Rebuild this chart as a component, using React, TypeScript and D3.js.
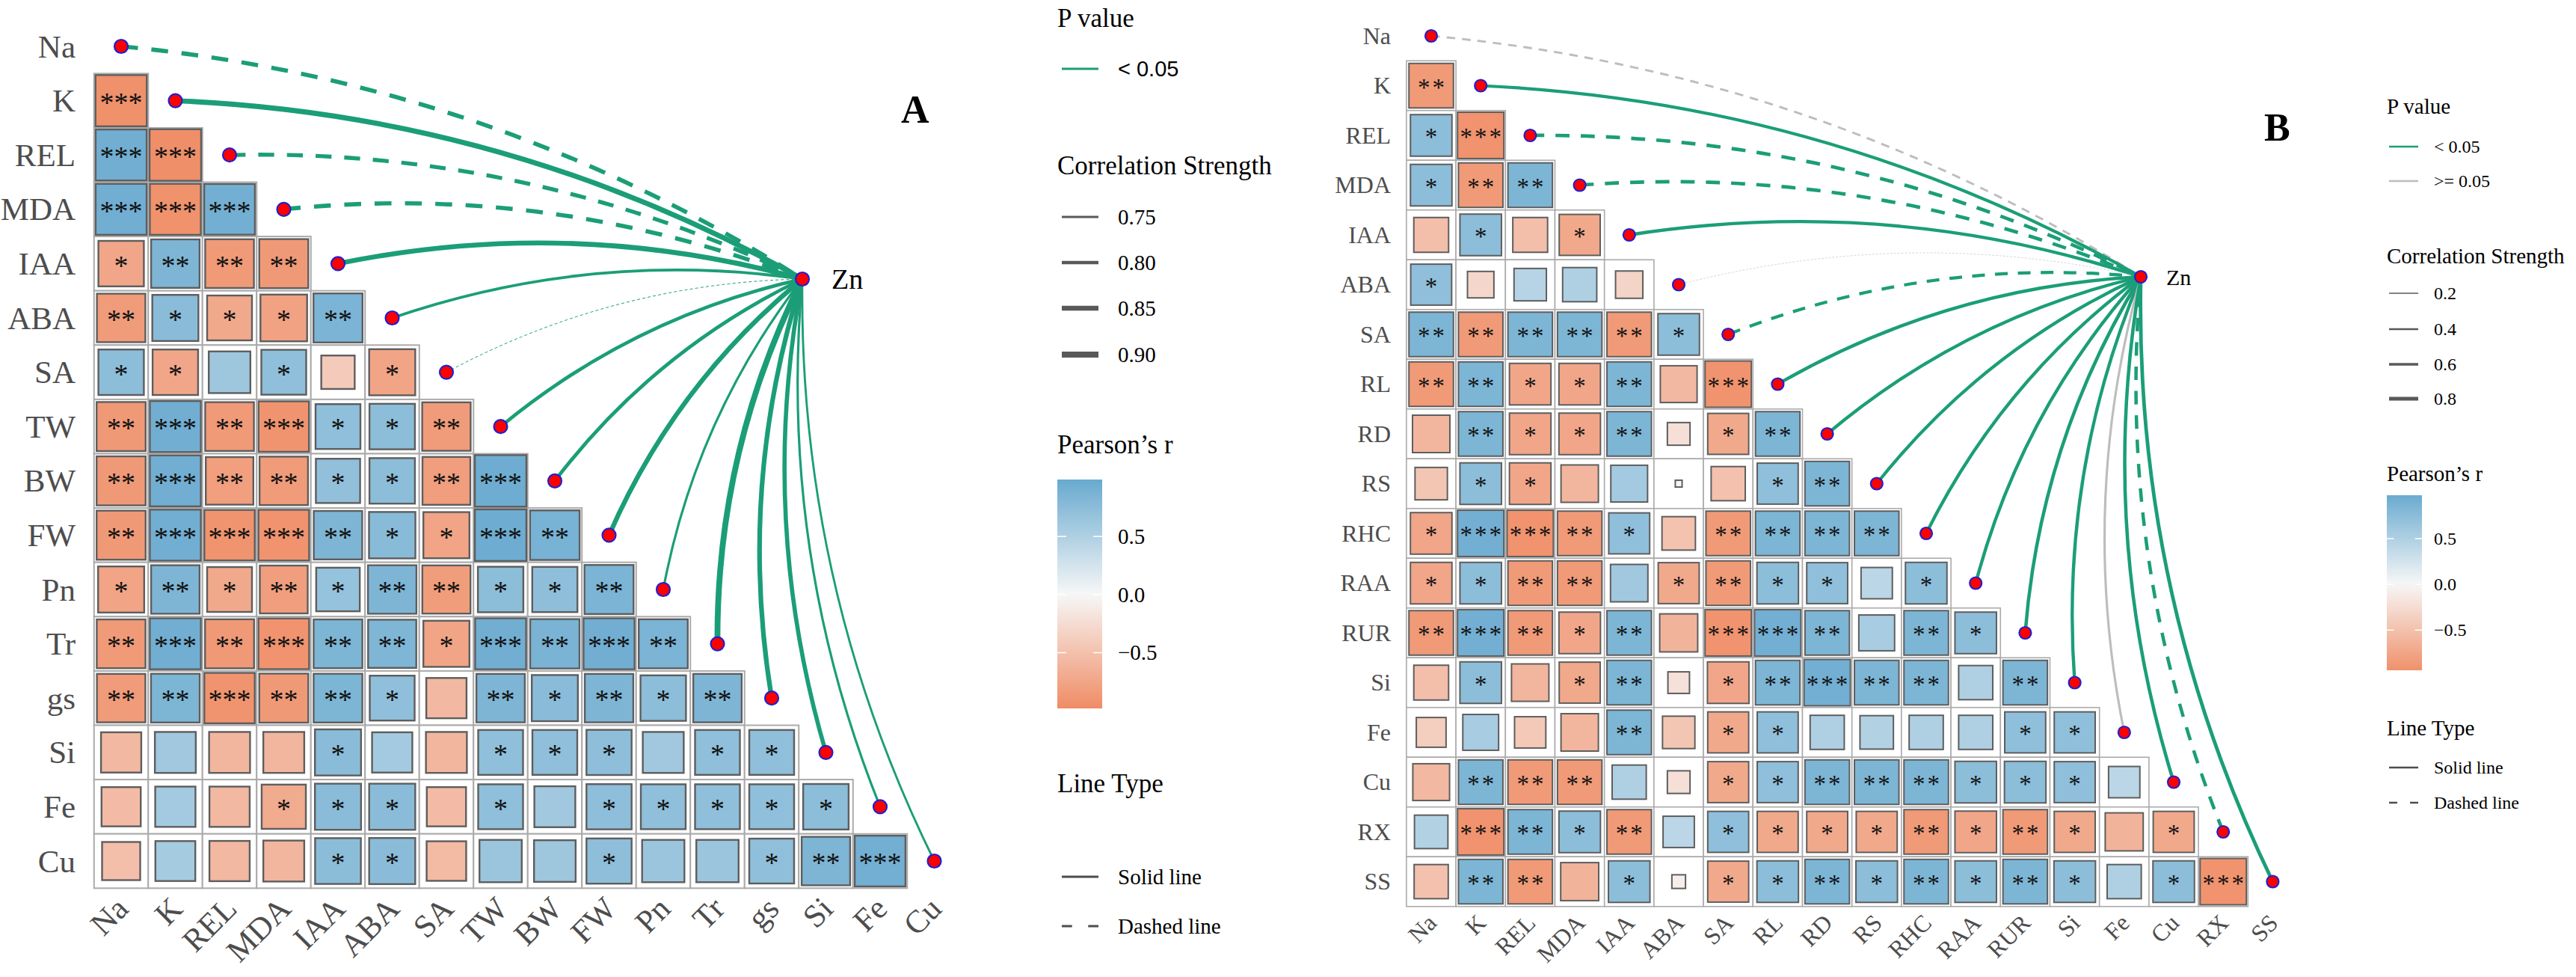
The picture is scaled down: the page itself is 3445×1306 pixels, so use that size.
import React from "react";
import * as d3 from "d3";

const SERIF = '"Liberation Serif", "Times New Roman", serif';
const SANS = '"Liberation Sans", Arial, sans-serif';

// ---------------- Panel A data ----------------
const varsA = ["Na", "K", "REL", "MDA", "IAA", "ABA", "SA", "TW", "BW", "FW", "Pn", "Tr", "gs", "Si", "Fe", "Cu"];
const corrA: number[][] = [
  [],
  [-0.94],
  [0.93, -0.95],
  [0.93, -0.93, 0.92],
  [-0.74, 0.84, -0.85, -0.86],
  [-0.84, 0.76, -0.72, -0.78, 0.86],
  [0.74, -0.74, 0.62, 0.72, -0.4, -0.76],
  [-0.86, 0.93, -0.85, -0.91, 0.72, 0.74, -0.84],
  [-0.86, 0.93, -0.81, -0.84, 0.7, 0.74, -0.82, 0.95],
  [-0.86, 0.93, -0.91, -0.92, 0.84, 0.77, -0.76, 0.95, 0.88],
  [-0.76, 0.84, -0.72, -0.82, 0.68, 0.84, -0.83, 0.74, 0.73, 0.86],
  [-0.85, 0.93, -0.86, -0.92, 0.85, 0.83, -0.76, 0.93, 0.87, 0.93, 0.86],
  [-0.84, 0.85, -0.91, -0.86, 0.85, 0.72, -0.58, 0.84, 0.76, 0.84, 0.74, 0.84],
  [-0.58, 0.6, -0.6, -0.6, 0.76, 0.58, -0.6, 0.72, 0.72, 0.73, 0.6, 0.72, 0.72],
  [-0.55, 0.58, -0.58, -0.7, 0.76, 0.76, -0.55, 0.72, 0.6, 0.73, 0.72, 0.72, 0.72, 0.74],
  [-0.52, 0.57, -0.58, -0.6, 0.75, 0.76, -0.56, 0.64, 0.62, 0.73, 0.64, 0.64, 0.72, 0.84, 0.92],
];
const linkRA = [-0.83, 0.87, -0.82, -0.83, 0.86, 0.77, -0.68, 0.8, 0.8, 0.85, 0.75, 0.9, 0.85, 0.83, 0.75, 0.74];
const linkSigA = [true, true, true, true, true, true, true, true, true, true, true, true, true, true, true, true];
const strengthBreaksA = [0.75, 0.8, 0.85, 0.9];

// ---------------- Panel B data ----------------
const varsB = ["Na", "K", "REL", "MDA", "IAA", "ABA", "SA", "RL", "RD", "RS", "RHC", "RAA", "RUR", "Si", "Fe", "Cu", "RX", "SS"];
const corrB: number[][] = [
  [],
  [-0.85],
  [0.74, -0.92],
  [0.74, -0.85, 0.85],
  [-0.52, 0.74, -0.52, -0.72],
  [0.72, -0.3, 0.45, 0.5, -0.32],
  [0.85, -0.85, 0.85, 0.85, -0.85, 0.74],
  [-0.85, 0.85, -0.74, -0.74, 0.85, -0.58, -0.92],
  [-0.6, 0.85, -0.74, -0.74, 0.85, -0.22, -0.72, 0.85],
  [-0.45, 0.74, -0.74, -0.6, 0.58, 0.02, -0.5, 0.72, 0.85],
  [-0.74, 0.92, -0.92, -0.85, 0.72, -0.48, -0.85, 0.85, 0.85, 0.85],
  [-0.74, 0.74, -0.85, -0.85, 0.6, -0.72, -0.85, 0.74, 0.72, 0.42, 0.74],
  [-0.85, 0.92, -0.85, -0.74, 0.85, -0.62, -0.92, 0.92, 0.85, 0.55, 0.85, 0.74],
  [-0.52, 0.74, -0.6, -0.72, 0.85, -0.2, -0.74, 0.85, 0.92, 0.85, 0.85, 0.5, 0.85],
  [-0.38, 0.55, -0.42, -0.6, 0.85, -0.45, -0.72, 0.72, 0.5, 0.48, 0.5, 0.5, 0.72, 0.72],
  [-0.58, 0.85, -0.85, -0.85, 0.5, -0.22, -0.72, 0.72, 0.85, 0.85, 0.85, 0.74, 0.74, 0.72, 0.42],
  [0.48, -0.92, 0.85, 0.74, -0.85, 0.42, 0.72, -0.72, -0.72, -0.72, -0.85, -0.74, -0.85, -0.72, -0.62, -0.72],
  [-0.5, 0.85, -0.85, -0.62, 0.74, -0.08, -0.72, 0.74, 0.85, 0.74, 0.85, 0.74, 0.85, 0.74, 0.5, 0.74, -0.92],
];
const linkRB = [-0.45, 0.7, -0.78, -0.78, 0.72, -0.05, -0.7, 0.72, 0.72, 0.7, 0.72, 0.72, 0.75, 0.72, 0.5, 0.75, -0.75, 0.8];
const linkSigB = [false, true, true, true, true, false, true, true, true, true, true, true, true, true, false, true, true, true];
const strengthBreaksB = [0.2, 0.4, 0.6, 0.8];

const colorTicks = [0.5, 0.0, -0.5];

// ---------------- shared scales ----------------
const fillScale = d3.scaleLinear<string>().domain([-1, 0, 1]).range(["#EF8A62", "#F7F7F7", "#67A9CF"]).interpolate(d3.interpolateRgb);
const GREEN = "#1B9E77";
const GREY = "#BDBDBD";
const stars = (r: number) => {
  const a = Math.abs(r);
  return a >= 0.9 ? "***" : a >= 0.8 ? "**" : a >= 0.666 ? "*" : "";
};

type PanelCfg = {
  id: string;
  vars: string[];
  corr: number[][];
  linkR: number[];
  linkSig: boolean[];
  x0: number; dx: number; y0: number; dy: number;
  zn: [number, number]; znFont: number; znDx: number;
  labelFont: number; rowLabelX: number; starFont: number; starSpacing: number; dotR: number;
  tag: string; tagX: number; tagY: number; tagFont: number;
  width: (v: number) => number;
  gridStroke: number; sqStroke: number;
  xlabDx: number; xlabDy: number;
  curv: number;
};

function Panel({ c }: { c: PanelCfg }) {
  const n = c.vars.length;
  const xs = d3.scaleLinear().domain([0, n - 1]).range([c.x0, c.x0 + (n - 1) * c.dx]);
  const ys = d3.scaleLinear().domain([0, n - 1]).range([c.y0, c.y0 + (n - 1) * c.dy]);
  const cw = c.dx, ch = c.dy;
  const cells: { i: number; j: number; r: number }[] = [];
  c.corr.forEach((row, i) => row.forEach((r, j) => cells.push({ i, j, r })));
  const bottom = ys(n - 1) + ch / 2;
  const [zx, zy] = c.zn;

  const links = c.vars.map((v, i) => {
    const sx = xs(i), sy = ys(i);
    const L = Math.hypot(sx - zx, sy - zy);
    const ux = (sx - zx) / L, uy = (sy - zy) / L;
    const px = -uy, py = ux;
    const mx = (sx + zx) / 2, my = (sy + zy) / 2;
    const cx = mx + c.curv * L * px, cy = my + c.curv * L * py;
    const p = d3.path();
    p.moveTo(sx, sy);
    p.quadraticCurveTo(cx, cy, zx, zy);
    const r = c.linkR[i];
    const w = c.width(Math.abs(r));
    return { d: p.toString(), w, dashed: r < 0, color: c.linkSig[i] ? GREEN : GREY, key: v };
  });

  return (
    <g>
      {cells.map(({ i, j }) => (
        <rect key={`g${i}-${j}`} x={xs(j) - cw / 2} y={ys(i) - ch / 2} width={cw} height={ch}
          fill="white" stroke="#ABABAB" strokeWidth={c.gridStroke} />
      ))}
      {cells.map(({ i, j, r }) => {
        const s = Math.sqrt(Math.abs(r)) * Math.min(cw, ch) * 0.975;
        return (
          <rect key={`s${i}-${j}`} x={xs(j) - s / 2} y={ys(i) - s / 2} width={s} height={s}
            fill={fillScale(r)} stroke="#5E5E5E" strokeWidth={c.sqStroke} />
        );
      })}
      {cells.map(({ i, j, r }) => {
        const st = stars(r);
        if (!st) return null;
        return (
          <text key={`t${i}-${j}`} x={xs(j) + c.starSpacing / 2} y={ys(i) + c.starFont * 0.4} textAnchor="middle"
            fontFamily={SERIF} fontSize={c.starFont} letterSpacing={c.starSpacing} fill="#111">{st}</text>
        );
      })}
      {links.map((l) => (
        <path key={`l${l.key}`} d={l.d} fill="none" stroke={l.color} strokeWidth={l.w}
          strokeDasharray={l.dashed ? `${Math.max(4 * l.w, 2)} ${Math.max(3.2 * l.w, 2)}` : undefined} />
      ))}
      {c.vars.map((v, i) => (
        <circle key={`d${v}`} cx={xs(i)} cy={ys(i)} r={c.dotR} fill="#FF0000" stroke="#2020D0" strokeWidth={2.2} />
      ))}
      <circle cx={zx} cy={zy} r={c.dotR} fill="#FF0000" stroke="#2020D0" strokeWidth={2.2} />
      <text x={zx + c.znDx} y={zy + c.znFont * 0.35} fontFamily={SERIF} fontSize={c.znFont} fill="#000">Zn</text>
      {c.vars.map((v, i) => (
        <text key={`rl${v}`} x={c.rowLabelX} y={ys(i) + c.labelFont * 0.34} textAnchor="end"
          fontFamily={SERIF} fontSize={c.labelFont} fill="#4D4D4D">{v}</text>
      ))}
      {c.vars.map((v, j) => {
        const ax = xs(j) + c.xlabDx, ay = bottom + c.xlabDy;
        return (
          <text key={`cl${v}`} x={ax} y={ay} textAnchor="end" transform={`rotate(-45 ${ax} ${ay})`}
            fontFamily={SERIF} fontSize={c.labelFont} fill="#4D4D4D">{v}</text>
        );
      })}
      <text x={c.tagX} y={c.tagY} fontFamily={SERIF} fontWeight="bold" fontSize={c.tagFont} fill="#000">{c.tag}</text>
    </g>
  );
}

type LegendCfg = {
  id: string;
  x: number; keyX1: number; keyX2: number; labX: number;
  titleFont: number; labFont: number;
  pTitleY: number; pItems: { label: string; color: string; y: number; font: string }[];
  sTitleY: number; sBreaks: number[]; sYs: number[]; width: (v: number) => number;
  cTitleY: number; barTop: number; barBottom: number; barW: number; barDomain: [number, number];
  lTitleY: number; lYs: number[]; keyW: number;
};

function Legend({ L }: { L: LegendCfg }) {
  const yScale = d3.scaleLinear().domain(L.barDomain).range([L.barBottom, L.barTop]);
  const stops = d3.range(0, 1.0001, 0.05).map((t) => {
    const v = L.barDomain[1] - t * (L.barDomain[1] - L.barDomain[0]);
    return { off: `${t * 100}%`, col: fillScale(v) };
  });
  const lab = (y: number) => y + L.labFont * 0.34;
  return (
    <g>
      <defs>
        <linearGradient id={`grad${L.id}`} x1="0" y1="0" x2="0" y2="1">
          {stops.map((s, k) => (
            <stop key={k} offset={s.off} stopColor={s.col} />
          ))}
        </linearGradient>
      </defs>
      <text x={L.x} y={L.pTitleY} fontFamily={SERIF} fontSize={L.titleFont} fill="#000">P value</text>
      {L.pItems.map((it) => (
        <g key={it.label}>
          <line x1={L.keyX1} x2={L.keyX2} y1={it.y} y2={it.y} stroke={it.color} strokeWidth={L.keyW} />
          <text x={L.labX} y={lab(it.y)} fontFamily={it.font} fontSize={L.labFont} fill="#000">{it.label}</text>
        </g>
      ))}
      <text x={L.x} y={L.sTitleY} fontFamily={SERIF} fontSize={L.titleFont} fill="#000">Correlation Strength</text>
      {L.sBreaks.map((b, k) => (
        <g key={`sb${k}`}>
          <line x1={L.keyX1} x2={L.keyX2} y1={L.sYs[k]} y2={L.sYs[k]} stroke="#595959" strokeWidth={L.width(b)} />
          <text x={L.labX} y={lab(L.sYs[k])} fontFamily={SERIF} fontSize={L.labFont} fill="#000">{b.toFixed(L.sBreaks[0] < 0.5 ? 1 : 2)}</text>
        </g>
      ))}
      <text x={L.x} y={L.cTitleY} fontFamily={SERIF} fontSize={L.titleFont} fill="#000">Pearson’s r</text>
      <rect x={L.x} y={L.barTop} width={L.barW} height={L.barBottom - L.barTop} fill={`url(#grad${L.id})`} />
      {colorTicks.map((t) => (
        <g key={`ct${t}`}>
          <line x1={L.x} x2={L.x + L.barW / 5} y1={yScale(t)} y2={yScale(t)} stroke="white" strokeWidth={1.5} />
          <line x1={L.x + L.barW * 0.8} x2={L.x + L.barW} y1={yScale(t)} y2={yScale(t)} stroke="white" strokeWidth={1.5} />
          <text x={L.labX} y={lab(yScale(t))} fontFamily={SERIF} fontSize={L.labFont} fill="#000">
            {t < 0 ? `\u2212${Math.abs(t).toFixed(1)}` : t.toFixed(1)}
          </text>
        </g>
      ))}
      <text x={L.x} y={L.lTitleY} fontFamily={SERIF} fontSize={L.titleFont} fill="#000">Line Type</text>
      <line x1={L.keyX1} x2={L.keyX2} y1={L.lYs[0]} y2={L.lYs[0]} stroke="#4D4D4D" strokeWidth={L.keyW} />
      <text x={L.labX} y={lab(L.lYs[0])} fontFamily={SERIF} fontSize={L.labFont} fill="#000">Solid line</text>
      <line x1={L.keyX1} x2={L.keyX2} y1={L.lYs[1]} y2={L.lYs[1]} stroke="#4D4D4D" strokeWidth={L.keyW}
        strokeDasharray={`${(L.keyX2 - L.keyX1) * 0.28} ${(L.keyX2 - L.keyX1) * 0.44}`} />
      <text x={L.labX} y={lab(L.lYs[1])} fontFamily={SERIF} fontSize={L.labFont} fill="#000">Dashed line</text>
    </g>
  );
}

const widthA = d3.scaleLinear().domain([0.68, 0.9]).range([1, 7.8]).clamp(true);
const widthB = d3.scaleLinear().domain([0, 0.8]).range([0.4, 4.8]).clamp(true);

const cfgA: PanelCfg = {
  id: "A", vars: varsA, corr: corrA, linkR: linkRA, linkSig: linkSigA,
  x0: 162, dx: 72.5, y0: 62, dy: 72.6,
  zn: [1073, 373], znFont: 38, znDx: 39,
  labelFont: 43, rowLabelX: 101, starFont: 38, starSpacing: 0, dotR: 9,
  tag: "A", tagX: 1205, tagY: 164, tagFont: 52,
  width: widthA, gridStroke: 2, sqStroke: 2.4,
  xlabDx: 12, xlabDy: 30, curv: 0.12,
};
const cfgB: PanelCfg = {
  id: "B", vars: varsB, corr: corrB, linkR: linkRB, linkSig: linkSigB,
  x0: 1914, dx: 66.2, y0: 48, dy: 66.5,
  zn: [2863, 370], znFont: 30, znDx: 34,
  labelFont: 32, rowLabelX: 1860, starFont: 33, starSpacing: 3, dotR: 8,
  tag: "B", tagX: 3028, tagY: 188, tagFont: 52,
  width: widthB, gridStroke: 1.6, sqStroke: 2,
  xlabDx: 9, xlabDy: 24, curv: 0.12,
};

const legA: LegendCfg = {
  id: "A", x: 1414, keyX1: 1420, keyX2: 1469, labX: 1495,
  titleFont: 35, labFont: 29,
  pTitleY: 36, pItems: [{ label: "< 0.05", color: GREEN, y: 92, font: SANS }],
  sTitleY: 233, sBreaks: strengthBreaksA, sYs: [290, 351, 412, 474], width: widthA,
  cTitleY: 606, barTop: 641, barBottom: 947, barW: 60, barDomain: [-0.98, 0.99],
  lTitleY: 1059, lYs: [1172, 1238], keyW: 3,
};
const legB: LegendCfg = {
  id: "B", x: 3192, keyX1: 3195, keyX2: 3234, labX: 3255,
  titleFont: 29, labFont: 24,
  pTitleY: 152, pItems: [
    { label: "< 0.05", color: GREEN, y: 196, font: SERIF },
    { label: ">= 0.05", color: GREY, y: 242, font: SERIF },
  ],
  sTitleY: 352, sBreaks: strengthBreaksB, sYs: [392, 440, 487, 533], width: widthB,
  cTitleY: 643, barTop: 662, barBottom: 896, barW: 47, barDomain: [-0.94, 0.975],
  lTitleY: 983, lYs: [1026, 1073], keyW: 2.5,
};

export default function App() {
  return (
    <svg width={3445} height={1306} viewBox="0 0 3445 1306"
      style={{ position: "absolute", left: 0, top: 0, background: "white" }}>
      <rect x={0} y={0} width={3445} height={1306} fill="white" />
      <Panel c={cfgA} />
      <Legend L={legA} />
      <Panel c={cfgB} />
      <Legend L={legB} />
    </svg>
  );
}
